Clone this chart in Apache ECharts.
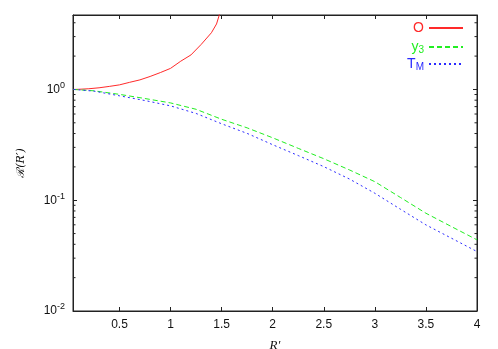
<!DOCTYPE html>
<html>
<head>
<meta charset="utf-8">
<script src="https://cdn.jsdelivr.net/npm/echarts@6/dist/echarts.min.js"></script>
<style>html,body{margin:0;padding:0;background:#fff}#c{width:498px;height:349px}</style>
</head>
<body>
<div id="c"></div>
<script>
// ---- data ----
var xO  = [0.05, 0.1, 0.2, 0.3, 0.4, 0.5, 0.6, 0.7, 0.8, 0.9, 1.0, 1.1, 1.2, 1.3, 1.4, 1.45, 1.5];
var yO  = [1.0, 1.003, 1.015, 1.035, 1.065, 1.10, 1.16, 1.22, 1.31, 1.42, 1.55, 1.80, 2.05, 2.55, 3.25, 3.9, 5.5];
var xT  = [0.05, 0.25, 0.5, 0.75, 1.0, 1.25, 1.5, 1.75, 2.0, 2.25, 2.5, 2.75, 3.0, 3.25, 3.5, 3.75, 4.0];
var yY3 = [1.0, 0.972, 0.903, 0.828, 0.756, 0.662, 0.538, 0.45, 0.366, 0.294, 0.237, 0.188, 0.147, 0.106, 0.0763, 0.0578, 0.0439];
var yTM = [1.0, 0.966, 0.876, 0.794, 0.711, 0.607, 0.49, 0.401, 0.317, 0.253, 0.201, 0.1556, 0.1156, 0.083, 0.0599, 0.0454, 0.0344];
var seriesNames = ['O', 'y3', 'TM'];
var seriesColors = ['#ff2a2a', '#22ee22', '#2a2aff'];
var xTickValues = [0.5, 1, 1.5, 2, 2.5, 3, 3.5, 4];
var xMin = 0.045, xMax = 4;
var yMin = 0.01, yMax = 4.7;
var minorTickValues = [];
[0.01, 0.1, 1].forEach(function (d) {
  for (var k = 2; k <= 9; k++) { var v = +(k * d).toPrecision(3); if (v < yMax) minorTickValues.push(v); }
});

function pairs(xs, ys) { return xs.map(function (x, i) { return [x, ys[i]]; }); }

var chart = echarts.init(document.getElementById('c'), null, {renderer: 'canvas'});
var axisColor = '#222';
var sansFont = 'Liberation Sans, Arial, sans-serif';
var labelFont = {fontFamily: sansFont, fontSize: 12, color: '#111'};

function yLabel(v) {
  var e = Math.log10(v);
  if (Math.abs(e - Math.round(e)) > 1e-6) return '';
  return '10{sup|' + Math.round(e) + '}';
}
function xLabel(v) { return String(+(+v).toFixed(2)); }

var legendTops = [16, 35, 52];
var legendText = {O: 'O', y3: 'y{sub|3}', TM: 'T{sub|M}'};
var legends = seriesNames.map(function (n, i) {
  return {
    orient: 'vertical', right: 29, top: legendTops[i], align: 'right',
    itemWidth: 34, itemHeight: 10,
    itemStyle: {opacity: 0},
    data: [{name: n}],
    formatter: function (name) { return legendText[name]; },
    textStyle: {fontFamily: sansFont, fontSize: 14, color: seriesColors[i],
      rich: {sub: {fontSize: 10, padding: [7, 0, 0, 0], fontFamily: sansFont, color: seriesColors[i]}}}
  };
});

var option = {
  animation: false,
  backgroundColor: '#fff',
  grid: {left: 73, right: 21, top: 15, bottom: 38, show: true, borderColor: axisColor, borderWidth: 1,
         backgroundColor: 'transparent', containLabel: false, outerBoundsMode: 'none'},
  legend: legends,
  xAxis: [{
    type: 'value', min: xMin, max: xMax, position: 'bottom',
    name: 'R\u2032', nameLocation: 'middle', nameGap: 28,
    nameTextStyle: {fontFamily: 'Liberation Serif, serif', fontStyle: 'italic', fontSize: 13, color: '#111'},
    axisLine: {lineStyle: {color: axisColor}},
    axisTick: {inside: true, length: 4, lineStyle: {color: axisColor}, customValues: xTickValues},
    axisLabel: Object.assign({formatter: xLabel, margin: 8, customValues: xTickValues}, labelFont),
    splitLine: {show: false}
  }, {
    type: 'value', min: xMin, max: xMax, position: 'top',
    axisLine: {lineStyle: {color: axisColor}},
    axisTick: {inside: true, length: 4, lineStyle: {color: axisColor}, customValues: xTickValues},
    axisLabel: {show: false}, splitLine: {show: false}
  }],
  yAxis: [{
    type: 'log', min: yMin, max: yMax, logBase: 10, position: 'left',
    name: '\u211B(R\u2032)', nameLocation: 'middle', nameGap: 46,
    nameTextStyle: {fontFamily: 'DejaVu Serif, serif', fontStyle: 'italic', fontSize: 11, color: '#111'},
    axisLine: {lineStyle: {color: axisColor}},
    axisTick: {inside: true, length: 4, lineStyle: {color: axisColor}},
    axisLabel: Object.assign({formatter: yLabel, margin: 8,
      rich: {sup: {fontSize: 9, padding: [0, 0, 8, 0], fontFamily: sansFont, color: '#111'}}}, labelFont),
    splitLine: {show: false}
  }, {
    type: 'log', min: yMin, max: yMax, logBase: 10, position: 'right',
    axisLine: {lineStyle: {color: axisColor}},
    axisTick: {inside: true, length: 4, lineStyle: {color: axisColor}},
    axisLabel: {show: false}, splitLine: {show: false}
  }],
  series: [
    {name: 'O', type: 'line', data: pairs(xO, yO), symbol: 'none', color: seriesColors[0],
     lineStyle: {width: 1, type: 'solid', color: seriesColors[0]}, clip: true},
    {name: 'y3', type: 'line', data: pairs(xT, yY3), symbol: 'none', color: seriesColors[1],
     lineStyle: {width: 1, type: [5, 3], color: seriesColors[1]}, clip: true},
    {name: 'TM', type: 'line', data: pairs(xT, yTM), symbol: 'none', color: seriesColors[2],
     lineStyle: {width: 1, type: [2, 3], color: seriesColors[2]}, clip: true},
    {name: 'minorTicks', type: 'custom', silent: true, clip: false,
     data: minorTickValues.map(function (v) { return [xMin, v]; }),
     renderItem: function (params, api) {
       var v = api.value(1);
       var a = api.coord([xMin, v]);
       var b = api.coord([xMax, v]);
       var len = 2.5;
       return {type: 'group', children: [
         {type: 'line', shape: {x1: a[0], y1: a[1], x2: a[0] + len, y2: a[1]}, style: {stroke: axisColor, lineWidth: 1}},
         {type: 'line', shape: {x1: b[0], y1: b[1], x2: b[0] - len, y2: b[1]}, style: {stroke: axisColor, lineWidth: 1}}
       ]};
     }}
  ]
};
chart.setOption(option);
</script>
</body>
</html>
